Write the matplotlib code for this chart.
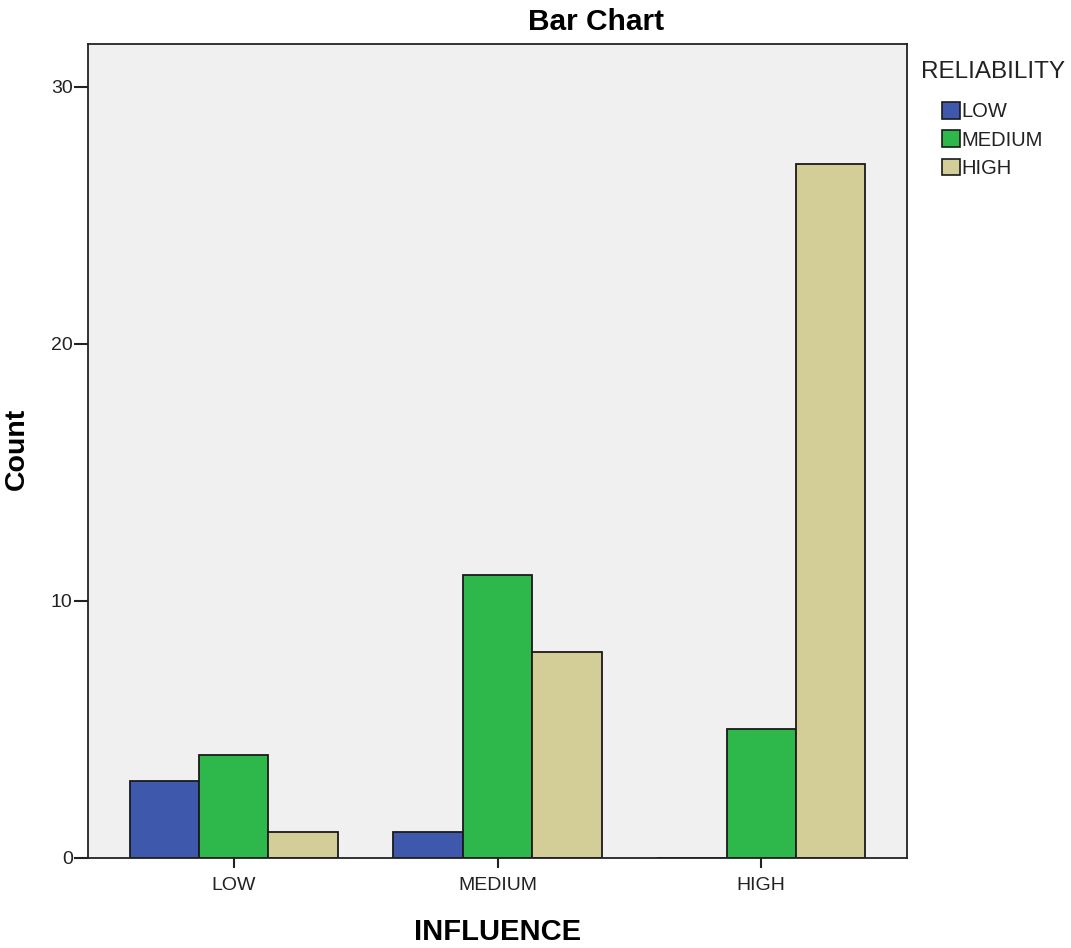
import numpy as np
import matplotlib
matplotlib.use("Agg")
import matplotlib.pyplot as plt
from matplotlib.patches import Patch

plt.rcParams['font.family'] = ['Liberation Sans', 'DejaVu Sans']

# data
influence = ['LOW', 'MEDIUM', 'HIGH']
reliability = ['LOW', 'MEDIUM', 'HIGH']
counts_low = [3, 1, 0]
counts_medium = [4, 11, 5]
counts_high = [1, 8, 27]

colors = ['#3e58ac', '#2eb84b', '#d3ce97']

fig = plt.figure(figsize=(10.71, 9.48), dpi=100)
ax = fig.add_axes([88 / 1071, 1 - 858 / 948, (907 - 88) / 1071, (858 - 44) / 948])
ax.set_facecolor('#f0f0f0')

index = np.arange(len(influence))
bar_width = 0.263

series = [counts_low, counts_medium, counts_high]
for i, (vals, col) in enumerate(zip(series, colors)):
    ax.bar(index + (i - 1) * bar_width, vals, bar_width,
           color=col, edgecolor='#1a1a1a', linewidth=1.3, zorder=2)

ax.set_xlim(-0.553, 2.553)
ax.set_ylim(0, 31.67)
ax.set_yticks([0, 10, 20, 30])
ax.set_xticks(index)
ax.set_xticklabels(influence)

ax.tick_params(axis='x', length=7, width=1.5, labelsize=14, pad=7, colors='#222222')
ax.tick_params(axis='y', length=10, width=1.5, labelsize=14, pad=1, colors='#222222')
for sp in ax.spines.values():
    sp.set_linewidth(1.3)
    sp.set_color('#222222')

ax.set_xlabel('INFLUENCE', fontsize=21, fontweight='bold', va='center')
ax.xaxis.set_label_coords(0.5, (858 - 932) / 814)
ax.set_ylabel('Count', fontsize=20.5, fontweight='bold', va='center')
ax.yaxis.set_label_coords((17 - 88) / 819, (858 - 449) / 814)
fig.text(596 / 1071, 1 - 22 / 948, 'Bar Chart', fontsize=21.5, fontweight='bold',
         ha='center', va='center')

# legend
fig.text(921 / 1071, 1 - 72 / 948, 'RELIABILITY', fontsize=17.5, ha='left', va='center',
         color='#222222')
handles = [Patch(facecolor=c, edgecolor='#1a1a1a', linewidth=1.2) for c in colors]
leg = ax.legend(handles, reliability, loc='upper left',
                bbox_to_anchor=(942 / 1071, 1 - 102 / 948), bbox_transform=fig.transFigure,
                frameon=False, fontsize=14.5, handlelength=0.9, handleheight=0.9,
                handletextpad=0.08, labelspacing=0.45, borderpad=0, borderaxespad=0)
for t in leg.get_texts():
    t.set_color('#222222')

fig.savefig('out.png', dpi=100)
